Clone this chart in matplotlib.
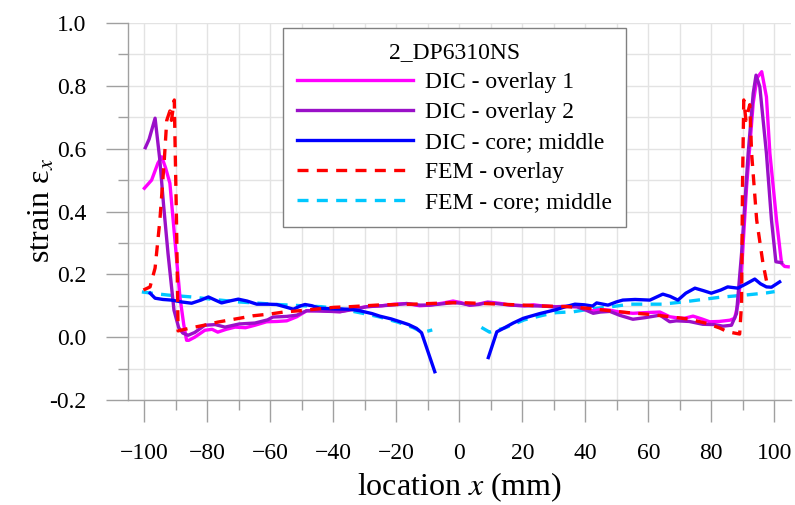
import matplotlib
matplotlib.use("Agg")
import matplotlib.pyplot as plt
from matplotlib.ticker import MultipleLocator, FormatStrFormatter
import numpy as np

# ---------------- data ----------------
dic1_x = [-100.0, -97.7, -95.7, -94.5, -93.3, -91.9, -88.7, -87.5, -86.6, -85.9,
          -84.0, -80.8, -78.5, -76.7, -74.0, -71.2, -67.9, -64.9, -61.2, -57.9,
          -54.8, -51.6, -48.5, -44.8, -41.8, -37.9, -33.7, -29.4, -24.6, -20.6,
          -16.7, -12.6, -9.4, -5.5, -2.0, 0.5, 3.3, 6.0, 9.0, 12.6,
          16.4, 20.6, 23.6, 26.7, 30.7, 33.7, 37.3, 39.7, 42.5, 44.8,
          47.8, 50.8, 55.1, 58.9, 63.7, 66.8, 68.9, 71.4, 74.2, 77.0,
          79.5, 82.5, 85.9, 87.4, 88.5, 89.6, 91.2, 93.3, 94.5,
          96.0, 97.5, 98.6, 100.7, 102.3, 103.3, 104.4]
dic1_y = [0.474, 0.5, 0.554, 0.574, 0.54, 0.49, 0.127, 0.04, -0.01, -0.01,
          0.0, 0.022, 0.025, 0.016, 0.025, 0.032, 0.03, 0.038, 0.049, 0.05,
          0.052, 0.065, 0.084, 0.085, 0.083, 0.081, 0.09, 0.097, 0.1, 0.105,
          0.107, 0.1, 0.102, 0.108, 0.115, 0.11, 0.102, 0.105, 0.112, 0.108,
          0.102, 0.1, 0.103, 0.099, 0.097, 0.098, 0.097, 0.09, 0.084, 0.088,
          0.086, 0.08, 0.076, 0.078, 0.08, 0.065, 0.062, 0.06, 0.067, 0.058,
          0.049, 0.05, 0.054, 0.06, 0.107, 0.213, 0.479, 0.745, 0.825,
          0.845, 0.765, 0.585, 0.373, 0.235, 0.225, 0.224]

dic2_x = [-99.7, -98.5, -96.6, -95.1, -93.9, -92.5, -90.6, -89.1, -87.8, -86.1,
          -84.0, -80.8, -77.5, -74.4, -69.9, -64.9, -60.9, -59.2, -54.8, -51.6,
          -48.5, -43.8, -37.9, -33.7, -29.4, -24.6, -20.6, -16.7, -12.6, -9.4,
          -5.5, -2.0, 0.5, 3.3, 6.0, 9.0, 12.6, 16.4, 20.6, 26.7,
          30.7, 33.7, 37.3, 39.7, 42.5, 44.8, 47.8, 50.8, 55.1, 58.9,
          63.7, 66.8, 68.9, 73.0, 77.3, 81.0, 83.7, 86.4, 88.0, 89.6,
          91.7, 93.3, 94.2, 95.4, 97.5, 99.1, 100.5, 102.3]
dic2_y = [0.603, 0.63, 0.697, 0.565, 0.42, 0.267, 0.086, 0.03, 0.013, 0.006,
          0.015, 0.038, 0.04, 0.032, 0.042, 0.045, 0.055, 0.064, 0.066, 0.07,
          0.084, 0.083, 0.081, 0.088, 0.097, 0.1, 0.103, 0.107, 0.102, 0.102,
          0.106, 0.11, 0.108, 0.102, 0.104, 0.11, 0.106, 0.102, 0.1, 0.099,
          0.096, 0.098, 0.097, 0.088, 0.076, 0.08, 0.082, 0.07, 0.057, 0.062,
          0.07, 0.049, 0.052, 0.05, 0.041, 0.04, 0.035, 0.038, 0.075, 0.266,
          0.585, 0.776, 0.834, 0.797, 0.585, 0.373, 0.24, 0.237]

core_left_x = [-98.2, -96.6, -94.1, -91.4, -88.1, -85.0, -82.0, -79.7, -77.5, -75.5,
               -73.0, -70.2, -67.4, -64.3, -60.9, -58.0, -54.8, -52.7, -50.3, -49.0,
               -46.8, -44.3, -39.7, -34.7, -31.6, -27.7, -25.3, -21.6, -18.8, -16.1,
               -13.6, -12.0, -7.8]
core_left_y = [0.14, 0.124, 0.12, 0.118, 0.112, 0.108, 0.118, 0.128, 0.118, 0.109,
               0.115, 0.121, 0.115, 0.105, 0.105, 0.104, 0.095, 0.089, 0.1, 0.104,
               0.1, 0.092, 0.09, 0.089, 0.084, 0.075, 0.067, 0.058, 0.049, 0.04,
               0.028, 0.014, -0.11]
core_right_x = [9.2, 11.9, 14.0, 17.1, 20.3, 25.5, 30.9, 33.7, 36.7, 39.7,
                42.3, 43.6, 47.2, 49.8, 51.9, 55.8, 60.5, 64.6, 66.9, 69.4,
                71.9, 74.8, 77.5, 80.0, 83.0, 85.2, 88.4, 91.1, 93.8, 95.6,
                97.5, 99.1, 101.7]
core_right_y = [-0.065, 0.017, 0.028, 0.045, 0.06, 0.075, 0.088, 0.097, 0.105, 0.103,
                0.099, 0.109, 0.102, 0.112, 0.118, 0.12, 0.118, 0.137, 0.13, 0.118,
                0.14, 0.156, 0.148, 0.14, 0.15, 0.16, 0.156, 0.17, 0.185, 0.17,
                0.16, 0.159, 0.176]

fem_ov_x = [-100.3, -98.2, -96.6, -95.1, -93.7, -92.9, -91.9, -91.4, -90.5, -90.3,
            -89.8, -89.5, -89.3, -85.0, -80.0, -76.7, -69.9, -65.5, -59.9, -55.8,
            -49.8, -44.8, -39.7, -34.7, -29.7, -24.7, -19.6, -14.6, -9.6, -4.5,
            0.5, 5.5, 10.6, 15.6, 20.6, 26.7, 30.7, 34.7, 41.8, 47.8,
            53.8, 60.9, 66.9, 73.2, 78.5, 82.7, 85.2, 89.0, 89.6, 89.9,
            90.3, 91.0, 92.2, 92.8, 94.4, 96.4, 97.5]
fem_ov_y = [0.15, 0.16, 0.22, 0.37, 0.56, 0.69, 0.72, 0.69, 0.755, 0.64,
            0.37, 0.16, 0.02, 0.03, 0.04, 0.048, 0.06, 0.068, 0.074, 0.08,
            0.085, 0.09, 0.095, 0.097, 0.1, 0.103, 0.104, 0.105, 0.107, 0.109,
            0.11, 0.108, 0.106, 0.104, 0.102, 0.099, 0.098, 0.097, 0.091, 0.084,
            0.078, 0.072, 0.065, 0.057, 0.044, 0.029, 0.017, 0.01, 0.107, 0.48,
            0.755, 0.69, 0.74, 0.585, 0.373, 0.235, 0.18]

fem_core_left_x = [-100.8, -96.1, -92.5, -85.0, -78.0, -69.9, -64.9, -57.8, -49.8, -43.8,
                   -37.7, -30.7, -25.6, -19.6, -14.6, -11.6, -8.6]
fem_core_left_y = [0.144, 0.138, 0.134, 0.128, 0.12, 0.112, 0.109, 0.104, 0.1, 0.097,
                   0.09, 0.076, 0.065, 0.048, 0.03, 0.015, 0.023]
fem_core_right_x = [7.0, 9.6, 14.6, 20.6, 26.7, 30.7, 36.3, 41.8, 48.3, 54.3,
                    64.4, 71.0, 82.7, 90.8, 97.6, 100.1]
fem_core_right_y = [0.031, 0.016, 0.03, 0.055, 0.07, 0.078, 0.081, 0.09, 0.097, 0.105,
                    0.105, 0.112, 0.127, 0.134, 0.141, 0.145]

labels = ["DIC - overlay 1", "DIC - overlay 2", "DIC - core; middle",
          "FEM - overlay", "FEM - core; middle"]
legend_title = "2_DP6310NS"
x_ticks = list(range(-100, 101, 20))
y_ticks = [-0.2, 0.0, 0.2, 0.4, 0.6, 0.8, 1.0]

# ---------------- style ----------------
plt.rcParams['font.family'] = ['Liberation Serif', 'DejaVu Serif']
plt.rcParams['mathtext.fontset'] = 'stix'
plt.rcParams['axes.unicode_minus'] = True

fig = plt.figure(figsize=(7.95, 5.05), dpi=100)
ax = fig.add_axes([128/795, 1-400/505, 663/795, 377/505])

lw = 2.4
dash = (3.3, 2.5)
ax.plot(dic1_x, dic1_y, color='#ff00ff', lw=lw, label=labels[0], zorder=3)
ax.plot(dic2_x, dic2_y, color='#9a10c8', lw=lw, label=labels[1], zorder=3)
core_x = core_left_x + [np.nan] + core_right_x
core_y = core_left_y + [np.nan] + core_right_y
ax.plot(core_x, core_y, color='#0000ff', lw=lw, label=labels[2], zorder=4)
ax.plot(fem_ov_x, fem_ov_y, color='#ff0000', lw=lw, ls=(0, dash), label=labels[3], zorder=5)
fc_x = fem_core_left_x + [np.nan] + fem_core_right_x
fc_y = fem_core_left_y + [np.nan] + fem_core_right_y
ax.plot(fc_x, fc_y, color='#00c8ff', lw=lw, ls=(0, dash), label=labels[4], zorder=2)

ax.set_xlim(-105.2, 105.3)
ax.set_ylim(-0.2, 1.0)
ax.set_xticks(x_ticks)
ax.set_yticks(y_ticks)
ax.xaxis.set_minor_locator(MultipleLocator(10))
ax.yaxis.set_minor_locator(MultipleLocator(0.1))
ax.yaxis.set_major_formatter(FormatStrFormatter('%.1f'))

ax.grid(True, which='both', color='#e3e3e3', lw=1.0, zorder=0)
ax.set_axisbelow(True)
for s in ['top', 'right']:
    ax.spines[s].set_visible(False)
for s in ['left', 'bottom']:
    ax.spines[s].set_color('#a0a0a0')
    ax.spines[s].set_linewidth(1.0)

ax.tick_params(which='major', length=15.8, width=1.0, color='#a0a0a0', labelsize=17)
ax.tick_params(which='minor', length=7.5, width=1.0, color='#a0a0a0')
ax.tick_params(axis='x', which='major', pad=15)
ax.tick_params(axis='y', which='major', pad=14)

ax.set_xlabel('location $x$ (mm)', fontsize=23)
ax.set_ylabel('strain ε$_{x}$', fontsize=23)
ax.xaxis.set_label_coords(0.5, (400-495)/377)
ax.xaxis.label.set_va('baseline')
ax.yaxis.set_label_coords((42-128)/663, (400-210)/377)
ax.yaxis.label.set_va('center')

leg = ax.legend(loc='upper left', bbox_to_anchor=((283-128)/663, (400-28)/377),
                title=legend_title, fontsize=17, title_fontsize=17,
                frameon=True, fancybox=False, framealpha=1.0, edgecolor='#808080',
                handlelength=4.9, handletextpad=0.5, labelspacing=0.36,
                borderpad=0.6, borderaxespad=0)
leg.get_frame().set_linewidth(1.0)

fig.savefig('out.png', dpi=100)
